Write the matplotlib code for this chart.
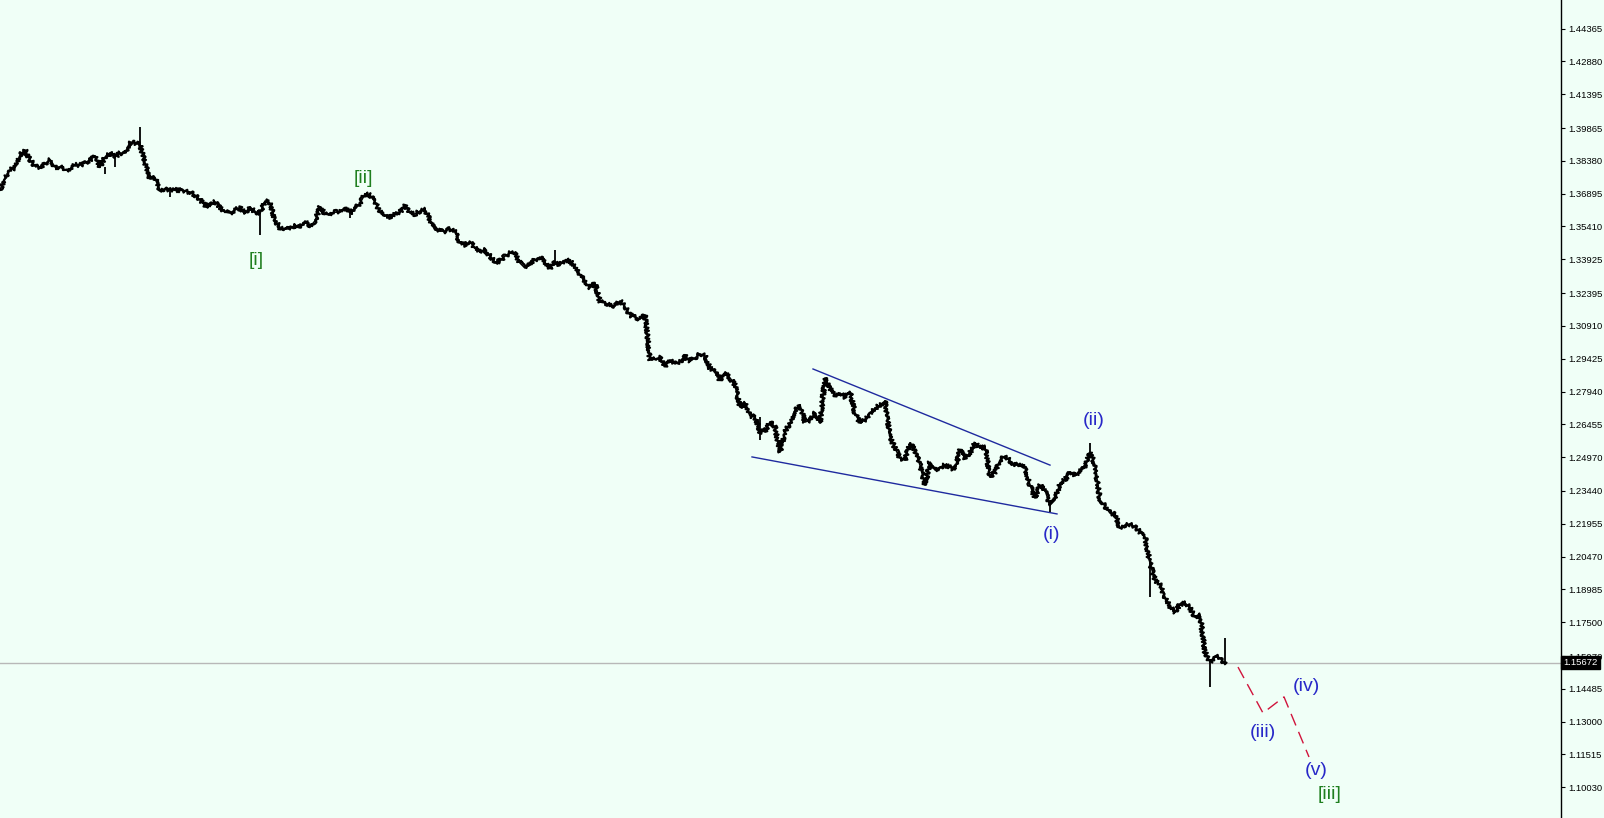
import matplotlib.pyplot as plt
import numpy as np

# closing prices, one every 5 px of the original chart
closes = [
    1.3706, 1.3760, 1.3797, 1.3806, 1.3864, 1.3887, 1.3842, 1.3815, 1.3810, 1.3824,
    1.3842, 1.3810, 1.3810, 1.3797, 1.3801, 1.3819, 1.3819, 1.3828, 1.3842, 1.3860,
    1.3810, 1.3855, 1.3873, 1.3855, 1.3873, 1.3873, 1.3923, 1.3919, 1.3910, 1.3828,
    1.3756, 1.3760, 1.3706, 1.3711, 1.3706, 1.3706, 1.3706, 1.3701, 1.3697, 1.3683,
    1.3661, 1.3638, 1.3634, 1.3652, 1.3629, 1.3606, 1.3602, 1.3616, 1.3625, 1.3602,
    1.3629, 1.3606, 1.3602, 1.3656, 1.3647, 1.3570, 1.3534, 1.3530, 1.3530, 1.3548,
    1.3534, 1.3566, 1.3539, 1.3566, 1.3629, 1.3597, 1.3593, 1.3606, 1.3606, 1.3625,
    1.3602, 1.3620, 1.3647, 1.3688, 1.3683, 1.3652, 1.3606, 1.3593, 1.3584, 1.3602,
    1.3606, 1.3634, 1.3602, 1.3597, 1.3611, 1.3616, 1.3570, 1.3525, 1.3520, 1.3520,
    1.3530, 1.3516, 1.3466, 1.3457, 1.3471, 1.3444, 1.3425, 1.3434, 1.3407, 1.3380,
    1.3385, 1.3407, 1.3421, 1.3416, 1.3376, 1.3353, 1.3376, 1.3389, 1.3403, 1.3376,
    1.3353, 1.3380, 1.3367, 1.3389, 1.3385, 1.3358, 1.3321, 1.3290, 1.3263, 1.3285,
    1.3199, 1.3195, 1.3186, 1.3181, 1.3204, 1.3177, 1.3140, 1.3131, 1.3122, 1.3140,
    1.2937, 1.2941, 1.2946, 1.2910, 1.2937, 1.2919, 1.2928, 1.2955, 1.2932, 1.2946,
    1.2964, 1.2955, 1.2900, 1.2882, 1.2846, 1.2882, 1.2855, 1.2824, 1.2724, 1.2742,
    1.2683, 1.2679, 1.2611, 1.2615, 1.2656, 1.2633, 1.2520, 1.2611, 1.2652, 1.2710,
    1.2733, 1.2656, 1.2665, 1.2697, 1.2652, 1.2855, 1.2810, 1.2778, 1.2787, 1.2769,
    1.2792, 1.2697, 1.2652, 1.2665, 1.2697, 1.2719, 1.2733, 1.2751, 1.2588, 1.2538,
    1.2493, 1.2484, 1.2561, 1.2529, 1.2461, 1.2371, 1.2475, 1.2439, 1.2452, 1.2461,
    1.2452, 1.2439, 1.2529, 1.2493, 1.2516, 1.2561, 1.2538, 1.2543, 1.2407, 1.2430,
    1.2484, 1.2502, 1.2480, 1.2461, 1.2466, 1.2448, 1.2371, 1.2312, 1.2371, 1.2348,
    1.2280, 1.2303, 1.2380, 1.2394, 1.2430, 1.2412, 1.2439, 1.2448, 1.2520, 1.2461,
    1.2303, 1.2276, 1.2244, 1.2240, 1.2176, 1.2190, 1.2194, 1.2181, 1.2158, 1.2136,
    1.2018, 1.1941, 1.1918, 1.1864, 1.1819, 1.1796, 1.1832, 1.1837, 1.1814, 1.1773,
    1.1783, 1.1615, 1.1570, 1.1597, 1.1588, 1.1561,
]

# long wicks (bar index, high, low)
spike_bar = [21, 23, 28, 34, 52, 70, 111, 152, 210, 218, 230, 242, 245]
spike_hi = [1.3810, 1.3855, 1.3991, 1.3706, 1.3602, 1.3602, 1.3434, 1.2679, 1.2280, 1.2561, 1.2018, 1.1570, 1.1678]
spike_lo = [1.3778, 1.3810, 1.3910, 1.3674, 1.3502, 1.3579, 1.3380, 1.2575, 1.2249, 1.2520, 1.1864, 1.1457, 1.1561]

last_price = 1.15672

# wedge lines (bar, price)
upper_line = ([162.6, 210.0], [1.2896, 1.2461])
lower_line = ([150.4, 211.4], [1.2498, 1.2240])

# projected path for the rest of the count
proj_bar = [247.6, 252.6, 256.8, 261.8]
proj_price = [1.1547, 1.1339, 1.1412, 1.1140]

# wave labels
green_labels = ['[i]', '[ii]', '[iii]']
green_pos = [(51.2, 1.3385), (72.6, 1.3756), (266.0, 1.0968)]
blue_labels = ['(i)', '(ii)', '(iii)', '(iv)', '(v)']
blue_pos = [(210.4, 1.2145), (218.8, 1.2661), (252.6, 1.1253), (261.2, 1.1461), (263.2, 1.1081)]

tick_values = [1.44365, 1.42880, 1.41395, 1.39865, 1.38380, 1.36895, 1.35410, 1.33925,
               1.32395, 1.30910, 1.29425, 1.27940, 1.26455, 1.24970, 1.23440, 1.21955,
               1.20470, 1.18985, 1.17500, 1.15970, 1.14485, 1.13000, 1.11515, 1.10030]

bg = '#F0FFF7'
plt.rcParams['font.family'] = ['Liberation Sans', 'DejaVu Sans']

fig = plt.figure(figsize=(16.04, 8.18), dpi=100, facecolor=bg)
ax = fig.add_axes([0, 0, 1561 / 1604, 1])
ax.set_facecolor(bg)

bars = np.arange(len(closes))
ax.axhline(last_price, color='#b8b8b8', lw=1, zorder=1)
# dense bars look ragged, so draw the close line with a sketchy stroke
price_line, = ax.plot(bars, closes, color='black', lw=1.6, zorder=3)
price_line.set_sketch_params(scale=2.2, length=2.5, randomness=3)
ax.plot(bars, closes, color='black', lw=1.2, zorder=3)
ax.vlines(spike_bar, spike_lo, spike_hi, color='black', lw=1.3, zorder=3)

ax.plot(*upper_line, color='#1f2a9f', lw=1)
ax.plot(*lower_line, color='#1f2a9f', lw=1)
ax.plot(proj_bar, proj_price, color='#d0143c', lw=1, dashes=(9, 5))

for lab, (bx, by) in zip(green_labels, green_pos):
    ax.text(bx, by, lab, color='#1f7f1f', fontsize=14, ha='center', va='center')
for lab, (bx, by) in zip(blue_labels, blue_pos):
    ax.text(bx, by, lab, color='#2828c8', fontsize=14, ha='center', va='center')

ax.set_xlim(0, 1561 / 5)
ax.set_ylim(1.08639, 1.45659)

# axis on the right like the terminal
for s in ['left', 'top', 'bottom']:
    ax.spines[s].set_visible(False)
ax.spines['right'].set_color('black')
ax.spines['right'].set_linewidth(1)
ax.set_xticks([])
ax.yaxis.tick_right()
ax.set_yticks(tick_values)
ax.set_yticklabels([f'{v:.5f}' for v in tick_values])
ax.tick_params(axis='y', direction='out', length=3, width=0.8, pad=2, labelsize=6.8, colors='black')

ax.text(1.0015, last_price, f'{last_price:.5f}', transform=ax.get_yaxis_transform(),
        color='white', fontsize=6.8, ha='left', va='center', clip_on=False, zorder=10,
        bbox=dict(boxstyle='square,pad=0.25', fc='black', ec='black'))

fig.savefig('out.png', dpi=100, facecolor=bg)
